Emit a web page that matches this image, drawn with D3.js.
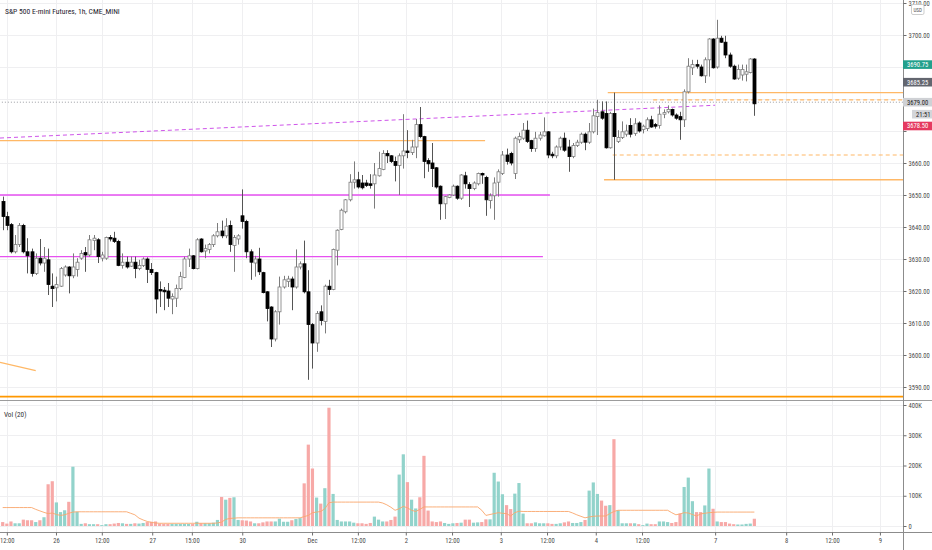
<!DOCTYPE html>
<html><head><meta charset="utf-8">
<script src="https://cdn.jsdelivr.net/npm/d3@7"></script>
<style>
html,body{margin:0;padding:0;background:#fff;overflow:hidden;}
svg{display:block;}
</style></head><body>
<svg id="chart" width="932" height="550"></svg>
<script>
// ---------------- DATA ----------------
const title = "S&P 500 E-mini Futures, 1h, CME_MINI";
const volTitle = "Vol (20)";
const opens = [
3648.0,3643.25,3640.75,3632.25,3634.5,3640.5,3632.25,3632.25,3625.5,3630.25,
3628.75,3629.75,3621.5,3621.0,3621.5,3625.0,3627.5,3624.75,3626.75,3630.25,
3632.0,3631.25,3635.75,3636.0,3630.25,3630.25,3636.75,3636.5,3635.5,3628.0,
3629.0,3627.75,3629.0,3627.0,3628.0,3630.0,3626.75,3625.75,3620.5,3620.25,
3620.0,3617.5,3617.75,3620.75,3624.25,3630.0,3631.0,3627.0,3636.25,3632.5,
3633.0,3634.5,3637.25,3638.75,3637.25,3640.5,3634.25,3636.25,3643.5,3641.75,
3632.25,3628.75,3630.0,3625.75,3619.75,3615.0,3605.0,3613.5,3621.25,3623.0,
3623.75,3621.25,3627.5,3628.5,3619.75,3609.5,3603.75,3613.5,3610.5,3621.5,
3620.5,3632.75,3639.25,3644.75,3648.5,3654.0,3654.75,3653.75,3653.75,3653.5,
3653.5,3656.0,3658.0,3663.0,3662.25,3660.5,3659.25,3662.25,3663.75,3663.25,
3665.0,3672.0,3668.25,3660.75,3660.0,3658.5,3652.75,3647.25,3649.25,3650.0,
3652.75,3649.0,3656.0,3653.25,3652.0,3653.5,3656.75,3655.5,3648.25,3649.75,
3654.0,3656.75,3662.5,3663.0,3656.75,3667.25,3667.75,3670.25,3667.0,3664.5,
3667.75,3668.5,3669.75,3662.75,3662.25,3665.0,3667.75,3665.0,3662.0,3665.5,
3666.5,3669.0,3666.5,3669.75,3674.5,3676.0,3675.5,3664.75,3675.5,3666.75,
3668.0,3669.0,3671.75,3669.25,3672.5,3670.5,3670.75,3673.5,3672.0,3671.75,
3675.25,3676.0,3676.75,3675.0,3674.5,3673.5,3682.25,3689.75,3690.75,3690.0,
3687.25,3692.25,3698.75,3690.0,3699.0,3697.75,3693.75,3690.25,3686.5,3687.5,
3687.75,3688.25,3692.5];
const highs = [
3649.5,3644.75,3641.25,3637.5,3641.25,3641.0,3636.5,3633.25,3631.75,3636.25,
3633.75,3633.25,3625.5,3624.5,3627.5,3628.0,3627.75,3631.75,3630.25,3632.75,
3633.75,3637.5,3637.5,3636.5,3632.25,3637.0,3637.5,3638.5,3636.0,3631.75,
3630.75,3630.75,3630.75,3629.75,3630.5,3630.5,3628.75,3626.0,3623.0,3621.25,
3622.5,3619.25,3622.0,3626.0,3630.75,3633.25,3631.25,3636.5,3636.5,3634.5,
3635.0,3637.75,3641.25,3642.0,3642.75,3642.0,3637.5,3637.75,3651.75,3642.25,
3633.0,3631.0,3633.5,3626.0,3620.0,3615.25,3614.0,3624.5,3624.75,3624.75,
3624.5,3633.0,3629.25,3635.75,3626.5,3610.0,3613.75,3615.5,3622.0,3623.5,
3633.25,3639.25,3645.75,3648.75,3656.5,3660.5,3657.25,3656.25,3654.75,3656.5,
3660.0,3663.5,3664.0,3664.0,3662.5,3662.0,3663.0,3675.25,3670.25,3667.25,
3673.75,3677.5,3668.5,3661.5,3666.25,3658.75,3653.0,3649.75,3650.25,3653.25,
3653.0,3656.5,3657.25,3654.0,3654.25,3657.0,3657.0,3656.0,3650.5,3655.5,
3658.0,3663.75,3664.5,3663.5,3668.25,3669.5,3672.5,3673.25,3667.25,3669.75,
3669.75,3674.25,3670.0,3663.5,3665.5,3668.25,3669.5,3667.25,3666.25,3667.25,
3669.5,3669.5,3672.5,3677.0,3679.75,3679.25,3679.25,3676.0,3682.0,3670.25,
3673.0,3672.0,3674.0,3674.0,3673.0,3672.0,3674.25,3674.75,3672.5,3678.0,
3676.75,3678.0,3677.0,3675.5,3676.0,3683.0,3692.75,3692.25,3692.25,3690.75,
3693.0,3699.0,3699.0,3704.75,3699.75,3699.75,3694.5,3690.75,3690.75,3690.75,
3690.75,3692.75,3692.75];
const lows = [
3639.0,3639.0,3631.75,3631.75,3633.75,3631.75,3625.5,3624.5,3625.0,3628.0,
3626.0,3618.75,3615.0,3616.75,3621.25,3624.5,3619.25,3624.0,3624.5,3629.75,
3626.0,3630.75,3632.75,3628.75,3629.25,3629.75,3635.5,3635.0,3627.75,3627.0,
3627.0,3627.5,3624.0,3626.5,3627.5,3622.5,3625.0,3613.0,3615.0,3614.0,
3615.0,3612.75,3615.0,3620.25,3624.0,3627.5,3626.75,3626.75,3632.0,3630.25,
3631.75,3633.75,3636.75,3636.5,3636.5,3632.25,3626.0,3634.5,3639.5,3630.25,
3623.5,3624.5,3625.0,3619.25,3610.5,3602.5,3604.25,3609.5,3620.75,3621.25,
3614.0,3620.75,3626.75,3619.25,3592.25,3595.75,3601.0,3609.25,3606.75,3618.75,
3620.25,3628.0,3639.0,3644.25,3648.0,3652.0,3652.0,3651.75,3652.5,3652.0,
3645.75,3655.75,3657.75,3660.0,3660.0,3654.25,3650.0,3658.25,3661.5,3662.5,
3661.5,3667.75,3655.25,3657.25,3652.5,3652.0,3642.25,3642.5,3649.0,3649.75,
3648.5,3648.5,3652.0,3646.25,3651.5,3653.0,3653.5,3643.5,3645.75,3642.25,
3649.5,3656.25,3659.5,3659.25,3655.0,3666.25,3667.25,3666.25,3663.5,3663.5,
3667.0,3668.25,3661.5,3661.5,3661.5,3664.0,3663.5,3657.25,3661.5,3665.0,
3666.0,3664.0,3666.0,3669.25,3668.75,3673.5,3664.5,3664.5,3654.75,3666.25,
3667.5,3668.25,3668.0,3668.5,3669.5,3669.25,3670.0,3671.0,3670.75,3670.75,
3674.0,3675.5,3674.5,3673.5,3667.25,3671.25,3681.75,3687.5,3689.5,3687.0,
3685.0,3687.0,3689.5,3689.5,3697.5,3692.75,3689.75,3686.0,3686.0,3685.75,
3685.5,3688.0,3674.75];
const closes = [
3643.25,3640.5,3632.25,3634.5,3640.5,3632.25,3631.0,3625.5,3630.25,3628.75,
3630.25,3622.0,3620.75,3622.0,3627.0,3627.5,3624.75,3627.5,3629.0,3631.75,
3631.25,3636.0,3636.5,3630.75,3631.25,3636.75,3636.25,3635.5,3628.0,3629.0,
3627.5,3629.0,3627.0,3628.0,3630.0,3626.75,3625.75,3617.5,3620.0,3619.75,
3617.75,3618.25,3620.75,3624.5,3630.0,3631.0,3627.0,3636.0,3632.25,3633.25,
3634.5,3637.25,3638.5,3637.25,3640.25,3634.5,3636.75,3637.25,3641.75,3632.25,
3629.0,3630.0,3626.0,3619.5,3614.5,3605.0,3613.5,3621.25,3623.5,3623.75,
3621.25,3627.5,3628.5,3619.75,3609.5,3603.75,3613.0,3610.75,3621.5,3620.5,
3633.0,3639.0,3645.25,3648.5,3654.0,3654.75,3652.5,3652.25,3653.0,3653.0,
3656.25,3658.25,3663.0,3662.25,3660.5,3659.25,3662.25,3663.75,3663.25,3665.0,
3672.0,3668.25,3660.5,3659.75,3658.25,3652.5,3647.25,3649.5,3650.0,3652.75,
3649.0,3656.25,3653.5,3652.0,3653.75,3656.75,3656.25,3648.5,3649.75,3653.75,
3657.25,3662.5,3660.5,3660.0,3667.75,3668.25,3670.25,3666.75,3664.5,3667.75,
3668.75,3669.75,3662.5,3662.25,3665.0,3667.75,3664.0,3662.0,3665.5,3666.5,
3669.0,3666.5,3669.75,3674.75,3675.75,3674.0,3664.75,3675.5,3668.25,3668.0,
3669.75,3670.0,3669.0,3672.25,3670.0,3671.5,3673.5,3671.25,3671.5,3675.25,
3675.75,3676.75,3675.0,3674.0,3673.5,3682.25,3690.25,3690.75,3690.25,3687.25,
3692.25,3698.75,3689.75,3699.0,3697.75,3693.75,3690.25,3686.25,3689.25,3689.25,
3688.5,3692.5,3678.5];
// volume in thousands of contracts
const volumes = [
13,8,15,9,9,21,19,19,13,19,
29,138,148,78,46,52,80,196,47,7,
9,6,6,6,3,6,6,8,10,9,
7,7,9,8,10,13,14,15,8,7,
7,7,7,7,7,7,7,14,9,9,
9,11,20,96,87,93,95,20,19,18,
15,9,9,12,15,15,15,24,14,14,
19,23,26,141,269,190,94,74,125,391,
106,20,15,15,15,11,9,9,7,10,
31,21,15,15,20,31,170,237,145,87,
58,95,232,51,15,13,15,10,7,9,
10,11,21,21,11,12,13,22,22,176,
147,105,69,56,107,142,41,9,9,12,
9,9,9,7,7,9,12,15,10,10,
13,20,117,144,106,84,67,69,287,52,
9,9,9,9,6,3,8,6,6,15,
15,13,10,13,41,129,160,82,46,46,
68,190,57,15,13,13,8,6,5,5,
7,8,24];
// volume moving average (20), thousands
const volMA = [
61,61,61,61,61,61,61,61,55,50,
45,41,43,38,35,37,42,46,47,47,
47,47,47,47,47,47,47,47,47,47,
47,42,37,26,20,15,12,10,9,9,
9,9,9,9,9,9,9,9,9,9,
9,9,10,13,22,25,26,27,27,27,
27,27,27,27,27,27,27,27,27,27,
27,27,27,31,35,44,46,48,57,77,
79,79,79,79,79,79,79,79,79,79,
79,79,76,70,62,52,57,65,60,52,
48,55,63,63,63,63,63,63,63,63,
63,63,63,63,63,63,52,35,38,41,
44,42,41,33,44,49,48,48,48,48,
48,48,48,48,48,48,48,48,43,37,
32,27,30,32,33,33,33,41,48,52,
52,52,52,52,52,52,52,52,52,52,
52,52,44,37,40,44,43,38,33,40,
42,44,45,46,46,46,46,46,46,46,
46,46,46];
const priceTicks = [3590,3600,3610,3620,3630,3640,3650,3660,3670,3680,3690,3700,3710];
const volTicks = [0,100,200,300,400];
const timeLabels = ["12:00","26","12:00","27","15:00","30","Dec","12:00","2","12:00","3","12:00","4","12:00","7","8","12:00","9"];
const timeIdx = [1,12.9,24,36.2,45.8,58,74.9,86,97.6,108.8,120.6,131.8,143.6,154.8,172.5,189.7,200.8,212.4];
// drawn levels: price, start bar, end bar (null = to price axis)
const magentaLevels = [3650, 3630.75];
const magentaEnds = [132.5, 130.8];
const orangeLevels = [3667, 3682, 3654.75];
const orangeStarts = [null, 146.5, 145.6];
const orangeEnds = [116.8, null, null];
const orangeDashLevels = [3679.75, 3662.5];
const orangeDashStarts = [157.5, 147.7];
const supportLevel = 3587;
const prevCloseLevel = 3679.0;
const trendDashed = [[-0.65, 3667.8], [172.5, 3678.05]];
const trendOrange = [[-0.65, 3597.7], [8.0, 3595.1]];
const markerValues = [3690.75, 3685.25, 3679.00];
const countdown = "21:51";
const currency = "USD";

// ---------------- DRAW ----------------
const W = 932, H = 550, AX = 903, PANE_SPLIT = 400, TIME_Y = 532;
const FONT = "'Liberation Sans Narrow','Roboto Condensed',Roboto,'Liberation Sans',sans-serif";
const svg = d3.select('#chart').attr('font-family', FONT);
const x = d3.scaleLinear().domain([0, 182]).range([2.7, 2.7 + 182 * 4.13]);
const yP = d3.scaleLinear().domain([3590, 3700]).range([387, 35]);
const yV = d3.scaleLinear().domain([0, 400]).range([526, 405]);
const iEnd = x.invert(AX), iStart = x.invert(0);

svg.append('rect').attr('width', W).attr('height', H).attr('fill', '#fff');
const defs = svg.append('defs');
defs.append('clipPath').attr('id', 'cp').append('rect').attr('x', 0).attr('y', 0).attr('width', AX).attr('height', PANE_SPLIT - 1);
defs.append('clipPath').attr('id', 'cv').append('rect').attr('x', 0).attr('y', PANE_SPLIT + 1).attr('width', AX).attr('height', TIME_Y - PANE_SPLIT - 1);

// grid
const grid = svg.append('g').attr('stroke', '#efeff1').attr('stroke-width', 1);
priceTicks.forEach(p => grid.append('line').attr('x1', 0).attr('x2', AX).attr('y1', Math.round(yP(p)) + 0.5).attr('y2', Math.round(yP(p)) + 0.5));
volTicks.forEach(v => grid.append('line').attr('x1', 0).attr('x2', AX).attr('y1', Math.round(yV(v)) + 0.5).attr('y2', Math.round(yV(v)) + 0.5));
timeIdx.forEach(t => grid.append('line').attr('x1', Math.round(x(t)) + 0.5).attr('x2', Math.round(x(t)) + 0.5).attr('y1', 0).attr('y2', TIME_Y));

// price pane
const gp = svg.append('g').attr('clip-path', 'url(#cp)');
const line = d3.line().x(d => x(d[0])).y(d => yP(d[1]));
function hline(g, p, i0, i1, color, width, dash) {
  g.append('line').attr('x1', x(i0 == null ? iStart - 1 : i0)).attr('x2', x(i1 == null ? iEnd : i1))
    .attr('y1', yP(p)).attr('y2', yP(p)).attr('stroke', color).attr('stroke-width', width)
    .attr('stroke-dasharray', dash || null);
}
hline(gp, prevCloseLevel, null, null, '#9a9ca3', 1, '1,2');
magentaLevels.forEach((p, k) => hline(gp, p, null, magentaEnds[k], '#e651f0', 1.4));
orangeLevels.forEach((p, k) => hline(gp, p, orangeStarts[k], orangeEnds[k], '#ffb866', 1.4));
orangeDashLevels.forEach((p, k) => hline(gp, p, orangeDashStarts[k], null, '#ffb866', 1.2, '4,3'));
hline(gp, supportLevel, null, null, '#ff9800', 1.6);
gp.append('path').attr('d', line(trendDashed)).attr('stroke', '#cf55ea').attr('stroke-width', 1).attr('stroke-dasharray', '4,3').attr('fill', 'none');
gp.append('path').attr('d', line(trendOrange)).attr('stroke', '#ffb866').attr('stroke-width', 1.3).attr('fill', 'none');

const candles = d3.range(opens.length).map(i => ({i, o: opens[i], h: highs[i], l: lows[i], c: closes[i], v: volumes[i], ma: volMA[i]}));
const gc = gp.append('g');
gc.selectAll('line.w').data(candles).join('line').attr('class', 'w')
  .attr('x1', d => Math.round(x(d.i)) + 0.5).attr('x2', d => Math.round(x(d.i)) + 0.5)
  .attr('y1', d => yP(d.h)).attr('y2', d => yP(d.l))
  .attr('stroke', d => d.c >= d.o ? '#7c7c7c' : '#555').attr('stroke-width', 1);
gc.selectAll('rect.b').data(candles).join('rect').attr('class', 'b')
  .attr('x', d => Math.round(x(d.i)) - 1)
  .attr('width', 3)
  .attr('y', d => yP(Math.max(d.o, d.c)))
  .attr('height', d => Math.max(0.8, Math.abs(yP(d.o) - yP(d.c))))
  .attr('fill', d => d.c >= d.o ? '#ffffff' : '#000000')
  .attr('stroke', d => d.c >= d.o ? '#7c7c7c' : '#000000')
  .attr('stroke-width', 0.8);

// volume pane
const gv = svg.append('g').attr('clip-path', 'url(#cv)');
gv.selectAll('rect').data(candles).join('rect')
  .attr('x', d => x(d.i) - 1.6).attr('width', 3.2)
  .attr('y', d => yV(d.v)).attr('height', d => yV(0) - yV(d.v))
  .attr('fill', d => d.c >= d.o ? '#92d3cb' : '#f7a9a7');
gv.append('path').attr('d', d3.line().x(d => x(d.i)).y(d => yV(d.ma))(candles))
  .attr('fill', 'none').attr('stroke', '#f9a66c').attr('stroke-width', 1).attr('stroke-opacity', 0.9);

// pane separator and frame lines
svg.append('line').attr('x1', 0).attr('x2', W).attr('y1', PANE_SPLIT + 0.5).attr('y2', PANE_SPLIT + 0.5).attr('stroke', '#9c9c9c');
svg.append('line').attr('x1', 0).attr('x2', W).attr('y1', TIME_Y + 0.5).attr('y2', TIME_Y + 0.5).attr('stroke', '#8c8c8c');
svg.append('line').attr('x1', AX + 0.5).attr('x2', AX + 0.5).attr('y1', 0).attr('y2', H).attr('stroke', '#8c8c8c');

// tag positions on the price axis (tick labels under them are hidden, as in the original)
const baseY = yP(markerValues[2]);
const tagCenters = markerValues.map(v => yP(v)).concat([baseY + 12, baseY + 23.8]);
const hidden = p => tagCenters.some(c => Math.abs(c - yP(p)) < 8.6);

// price axis
const pa = svg.append('g').attr('transform', `translate(${AX + 0.5},0)`)
  .call(d3.axisRight(yP).tickValues(priceTicks).tickFormat(d => hidden(d) ? '' : d3.format('.2f')(d)).tickSize(3).tickPadding(2));
pa.attr('font-family', FONT).attr('font-size', 6.6).attr('color', '#6d6d6d');
pa.select('.domain').remove();
pa.selectAll('text').attr('fill', '#4a4a4a');
// volume axis
const va = svg.append('g').attr('transform', `translate(${AX + 0.5},0)`)
  .call(d3.axisRight(yV).tickValues(volTicks).tickFormat(d => d === 0 ? '0' : d + 'K').tickSize(3).tickPadding(2));
va.attr('font-family', FONT).attr('font-size', 6.6).attr('color', '#6d6d6d');
va.select('.domain').remove();
va.selectAll('text').attr('fill', '#4a4a4a');
// time axis
const ta = svg.append('g').attr('transform', `translate(0,${TIME_Y + 0.5})`)
  .call(d3.axisBottom(x).tickValues(timeIdx).tickFormat((d, k) => timeLabels[k]).tickSize(3).tickPadding(2.5));
ta.attr('font-family', FONT).attr('font-size', 6.6).attr('color', '#6d6d6d');
ta.select('.domain').remove();
ta.selectAll('text').attr('fill', '#4a4a4a');

// currency box
svg.append('rect').attr('x', 911.5).attr('y', 4.5).attr('width', 12.5).attr('height', 10).attr('rx', 1.5)
  .attr('fill', '#fff').attr('stroke', '#b8b8b8').attr('stroke-width', 0.7);
svg.append('text').attr('x', 917.75).attr('y', 11.6).attr('text-anchor', 'middle').attr('font-size', 5.2).attr('fill', '#555').text(currency);

// price labels on axis
function tag(yc, txt, bg, fg, x0) {
  const g = svg.append('g');
  g.append('rect').attr('x', x0).attr('y', yc - 4.3).attr('width', W - x0).attr('height', 8.6).attr('fill', bg);
  g.append('text').attr('x', x0 + 4).attr('y', yc + 2.3).attr('font-size', 6.6).attr('fill', fg).text(txt);
}
const markerBg = ['#22a08c', '#63666f', '#cfd1d5'];
const markerFg = ['#fff', '#fff', '#222'];
markerValues.forEach((v, k) => tag(yP(v), d3.format('.2f')(v), markerBg[k], markerFg[k], AX));
tag(tagCenters[3], countdown, '#d3d5d9', '#222', AX + 9);
tag(tagCenters[4], d3.format('.2f')(closes[closes.length - 1]), '#e53a60', '#fff', AX);

// titles
svg.append('text').attr('x', 5).attr('y', 13.5).attr('font-size', 7.6).attr('fill', '#1e222d').text(title);
svg.append('text').attr('x', 4).attr('y', 416.5).attr('font-size', 7.2).attr('fill', '#333').text(volTitle);
</script>
</body></html>
